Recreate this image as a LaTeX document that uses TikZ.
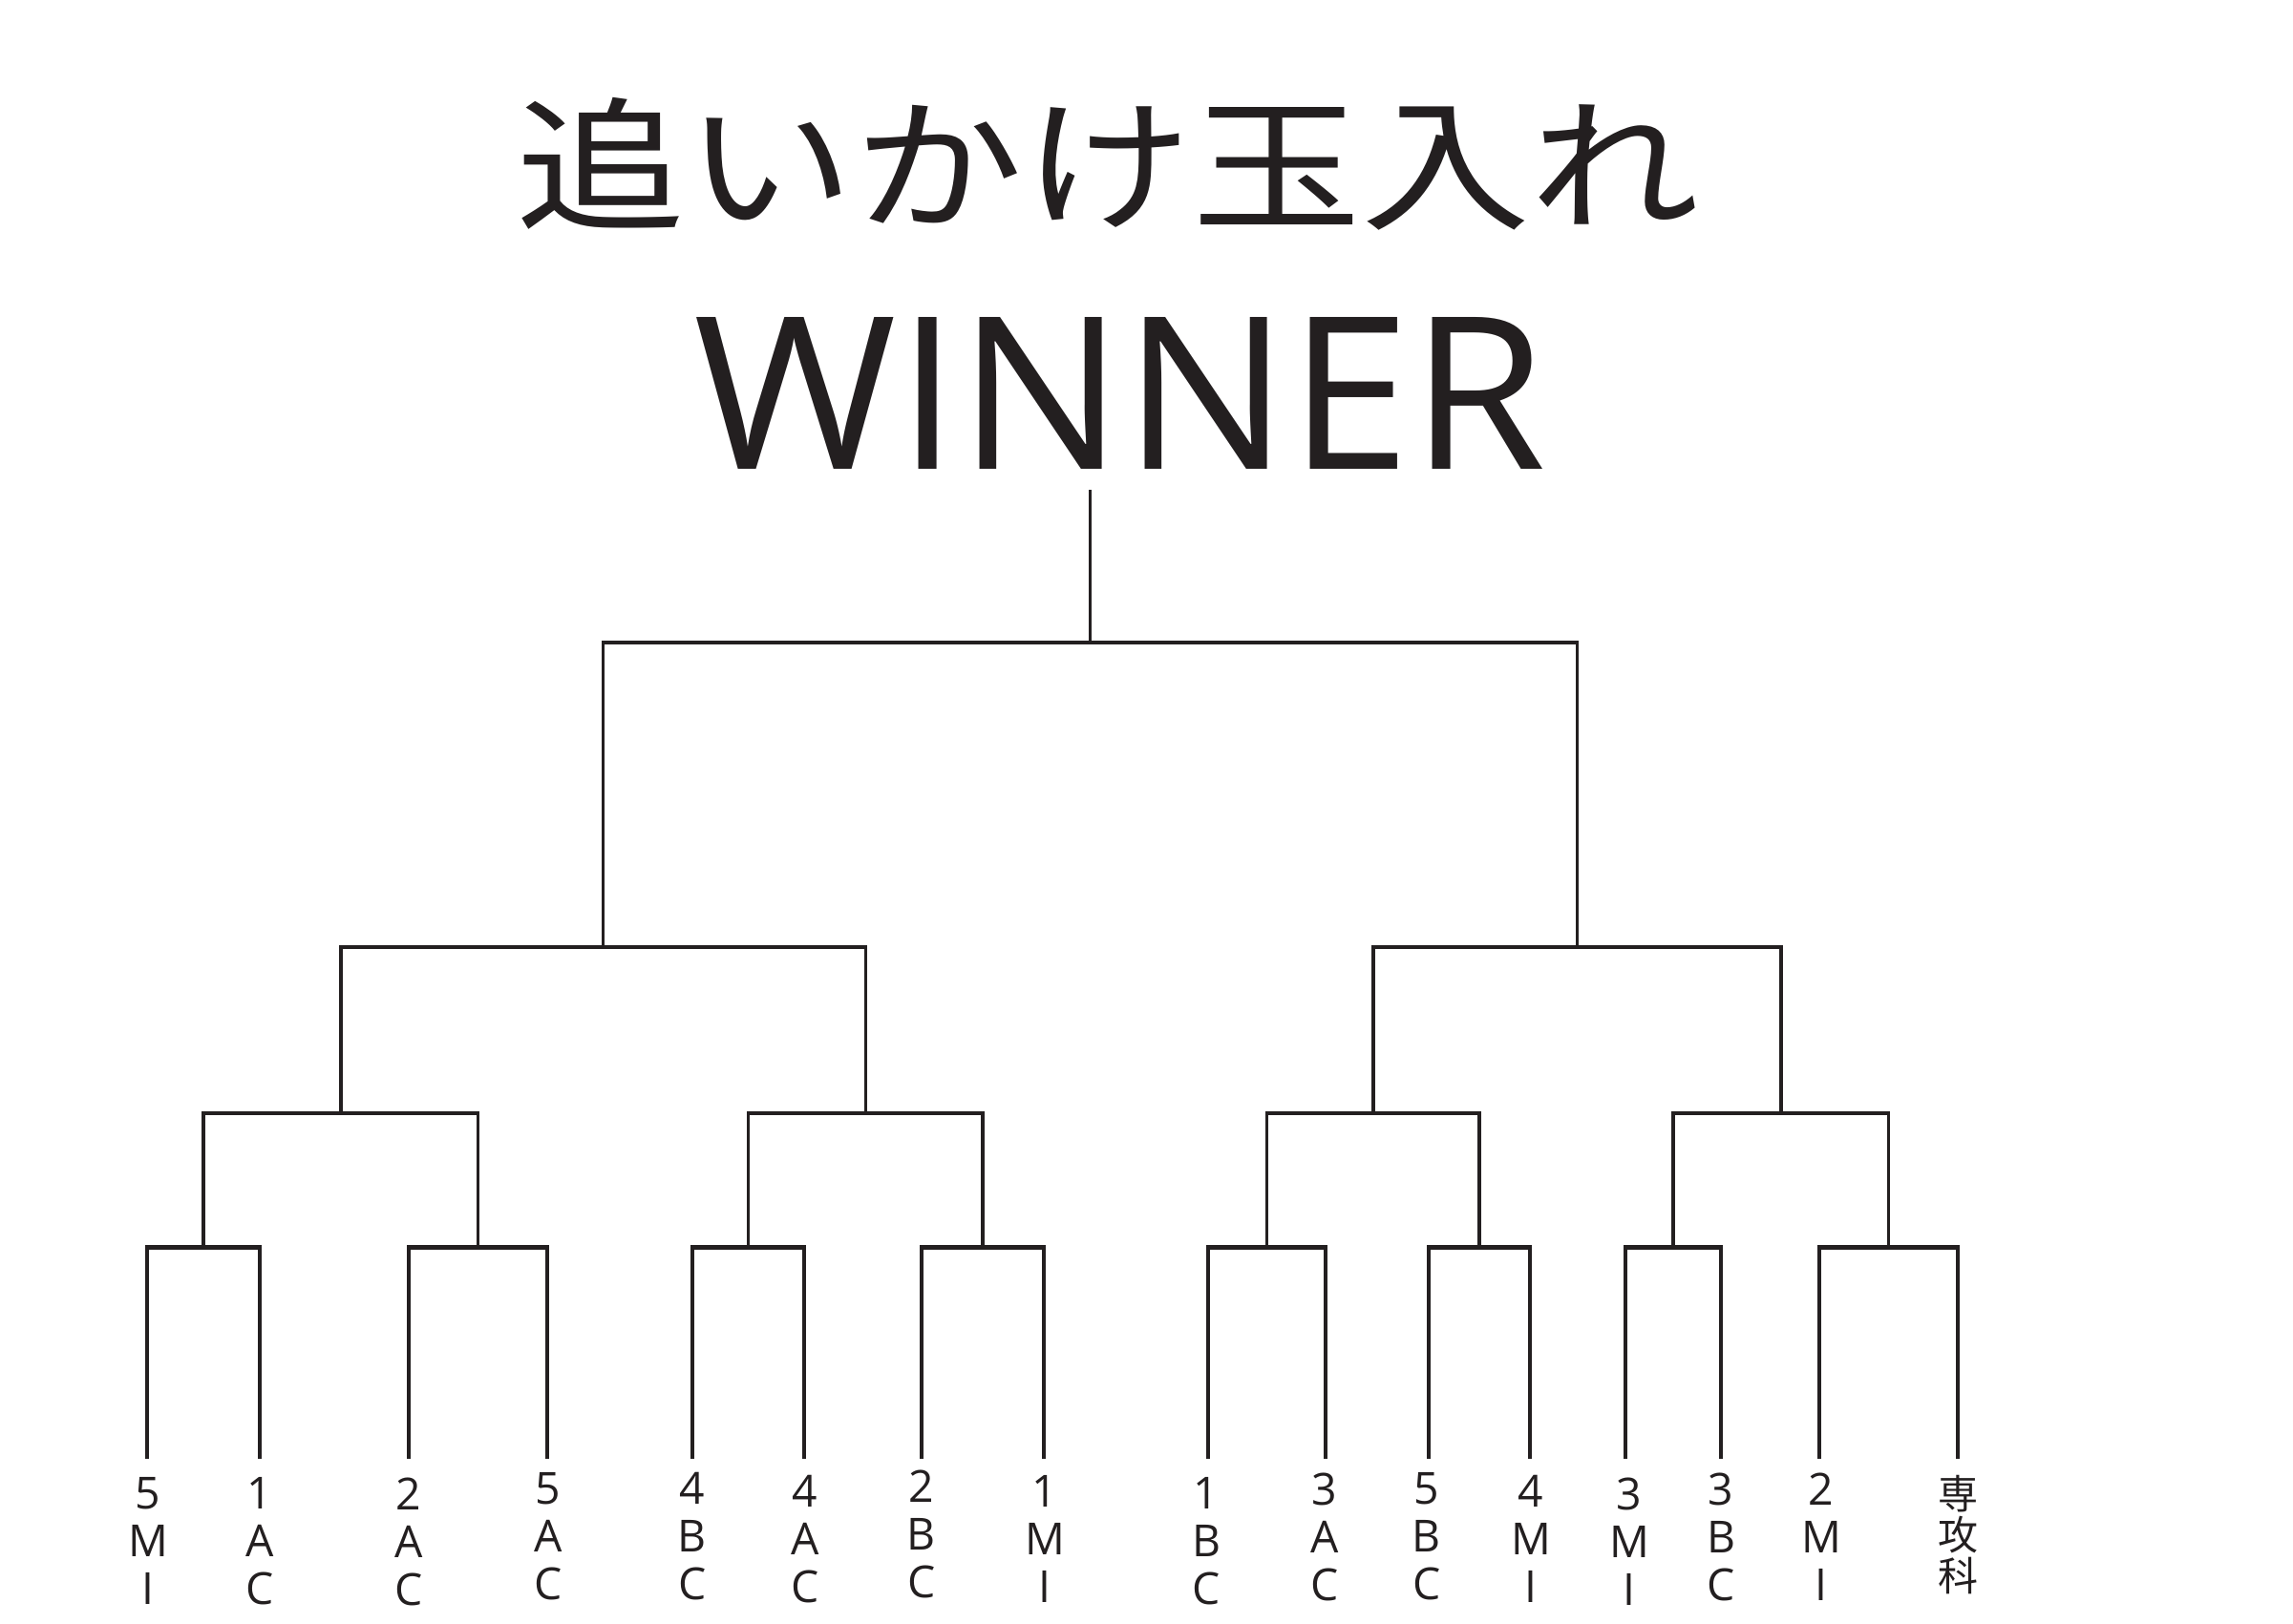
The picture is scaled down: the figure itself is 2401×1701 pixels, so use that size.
\documentclass[tikz,border=0pt]{standalone}
\usepackage{fontspec}
\setmainfont{Open Sans}
\newfontfamily\jpfont{Noto Sans CJK JP}
\usepackage{graphicx}
\definecolor{ink}{RGB}{35,31,32}
\begin{document}
\begin{tikzpicture}[x=0.3pt,y=-0.3pt,
  wire/.style={draw=ink,line width=1.05pt},
  bar/.style={draw=ink,line width=1.5pt},
  lbl/.style={anchor=north,inner sep=0pt,align=center,text=ink,font=\fontsize{13.9pt}{15pt}\selectfont},
  jlbl/.style={anchor=north,inner sep=0pt,align=center,text=ink,font=\jpfont\fontsize{12.6pt}{12.9pt}\selectfont}]
\useasboundingbox[fill=white] (0,0) rectangle (2401,1701);

% titles
\node[text=ink,inner sep=0pt] (title) at (1160,172) {\resizebox*{372pt}{41.7pt}{\jpfont 追いかけ玉入れ}};
\node[text=ink,inner sep=0pt] (winner) at (1173,412) {\resizebox{267.6pt}{47.7pt}{WINNER}};

% leaf ends
\foreach \i/\x in {1/154,2/272,3/428,4/573,5/725,6/842,7/965,8/1093,9/1265,10/1388,11/1496,12/1602,13/1702,14/1802,15/1905,16/2050}
  \coordinate (l\i) at (\x,1528);

% level 1 junctions
\coordinate (j1) at (213,1306);
\coordinate (j2) at (500.5,1306);
\coordinate (j3) at (783.5,1306);
\coordinate (j4) at (1029,1306);
\coordinate (j5) at (1326.5,1306);
\coordinate (j6) at (1549,1306);
\coordinate (j7) at (1752,1306);
\coordinate (j8) at (1977.5,1306);
% level 2
\coordinate (k1) at (356.75,1166);
\coordinate (k2) at (906.25,1166);
\coordinate (k3) at (1437.75,1166);
\coordinate (k4) at (1864.75,1166);
% level 3
\coordinate (p1) at (631.5,992);
\coordinate (p2) at (1651.25,992);
% level 4
\coordinate (q) at (1141.4,673);
\coordinate (w) at (1141.4,513);

% level 1 brackets
\foreach \a/\b/\j in {1/2/1,3/4/2,5/6/3,7/8/4,9/10/5,11/12/6,13/14/7,15/16/8}{
  \draw[wire] (l\a) -- (l\a |- j\j);
  \draw[wire] (l\b) -- (l\b |- j\j);
  \draw[bar] ([xshift=-0.5pt]l\a |- j\j) -- ([xshift=0.5pt]l\b |- j\j);
}
% level 2
\draw[wire] (j1) |- (k1) -| (j2);
\draw[wire] (j3) |- (k2) -| (j4);
\draw[wire] (j5) |- (k3) -| (j6);
\draw[wire] (j7) |- (k4) -| (j8);
% level 3
\draw[wire] (k1) |- (p1) -| (k2);
\draw[wire] (k3) |- (p2) -| (k4);
% level 4
\draw[wire] (p1) |- (q) -| (p2);
\draw[wire] (q) -- (w);

% labels
\node[lbl] (t1) at (155,1547) {5\\M\\I};
\node[lbl] (t2) at (272,1547) {1\\A\\C};
\node[lbl] (t3) at (428,1547) {2\\A\\C};
\node[lbl] (t4) at (574,1542) {5\\A\\C};
\node[lbl] (t5) at (725,1542) {4\\B\\C};
\node[lbl] (t6) at (843,1545) {4\\A\\C};
\node[lbl] (t7) at (965,1539) {2\\B\\C};
\node[lbl] (t8) at (1094,1545) {1\\M\\I};
\node[lbl] (t9) at (1263,1547) {1\\B\\C};
\node[lbl] (t10) at (1387,1542) {3\\A\\C};
\node[lbl] (t11) at (1494,1542) {5\\B\\C};
\node[lbl] (t12) at (1603,1545) {4\\M\\I};
\node[lbl] (t13) at (1706,1547) {3\\M\\I};
\node[lbl] (t14) at (1802,1542) {3\\B\\C};
\node[lbl] (t15) at (1907,1542) {2\\M\\I};
\node[jlbl] (t16) at (2050,1545) {専\\攻\\科};
\end{tikzpicture}
\end{document}
